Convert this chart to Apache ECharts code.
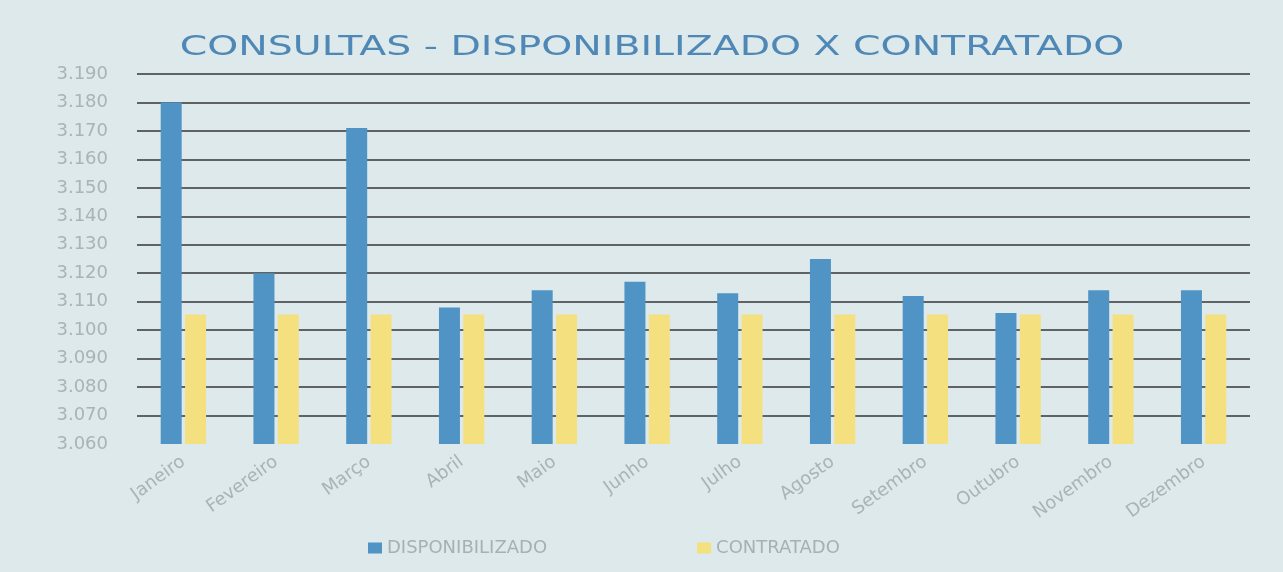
<!DOCTYPE html>
<html>
<head>
<meta charset="utf-8">
<script src="https://cdn.jsdelivr.net/npm/echarts@6/dist/echarts.min.js"></script>
<style>
  html, body { margin: 0; padding: 0; background: #dde9ea; }
  #chart { width: 1283px; height: 572px; }
</style>
</head>
<body>
<div id="chart"></div>
<script>
// meses
const months = ['Janeiro', 'Fevereiro', 'Março', 'Abril', 'Maio', 'Junho',
  'Julho', 'Agosto', 'Setembro', 'Outubro', 'Novembro', 'Dezembro'];
// valores
const disponibilizado = [3180, 3120, 3171, 3108, 3114, 3117, 3113, 3125, 3112, 3106, 3114, 3114];
const contratado = [3105.5, 3105.5, 3105.5, 3105.5, 3105.5, 3105.5, 3105.5, 3105.5, 3105.5, 3105.5, 3105.5, 3105.5];
const yMin = 3060;
const yMax = 3190;
const yStep = 10;
const titulo = 'CONSULTAS - DISPONIBILIZADO X CONTRATADO';

const chart = echarts.init(document.getElementById('chart'));

// 3190 -> "3.190"
function fmt(v) {
  let s = String(Math.round(v));
  return s.slice(0, s.length - 3) + '.' + s.slice(-3);
}

chart.setOption({
  backgroundColor: '#dde9ea',
  // titulo esticado na horizontal, como no original
  graphic: [{
    type: 'text',
    x: 652,
    y: 48,
    scaleX: 1.46,
    style: {
      text: titulo,
      fontFamily: 'DejaVu Sans',
      fontSize: 27,
      fill: '#4f88b6',
      align: 'center',
      verticalAlign: 'middle'
    }
  }],
  legend: {
    bottom: 10,
    left: 363,
    itemGap: 150,
    itemWidth: 14,
    itemHeight: 11,
    icon: 'rect',
    textStyle: { fontFamily: 'DejaVu Sans', fontSize: 18, color: '#a6b0b5' },
    data: ['DISPONIBILIZADO', 'CONTRATADO']
  },
  grid: { left: 137, right: 33, top: 74, bottom: 128 },
  xAxis: {
    type: 'category',
    data: months,
    axisLine: { show: false },
    axisTick: { show: false },
    axisLabel: {
      rotate: 36,
      margin: 16,
      fontFamily: 'DejaVu Sans',
      fontSize: 18,
      color: '#a9b3b8'
    }
  },
  yAxis: {
    type: 'value',
    min: yMin,
    max: yMax,
    interval: yStep,
    axisLine: { show: false },
    axisTick: { show: false },
    axisLabel: {
      formatter: fmt,
      margin: 29,
      fontFamily: 'DejaVu Sans',
      fontSize: 18,
      color: '#a9b3b8'
    },
    splitLine: {
      showMinLine: false,
      lineStyle: { color: '#5f6366', width: 2 }
    }
  },
  series: [
    {
      name: 'DISPONIBILIZADO',
      type: 'bar',
      data: disponibilizado,
      barWidth: 21,
      barGap: '16%',
      itemStyle: { color: '#4f94c5' }
    },
    {
      name: 'CONTRATADO',
      type: 'bar',
      data: contratado,
      barWidth: 21,
      itemStyle: { color: '#f4e07e' }
    }
  ]
});
</script>
</body>
</html>
